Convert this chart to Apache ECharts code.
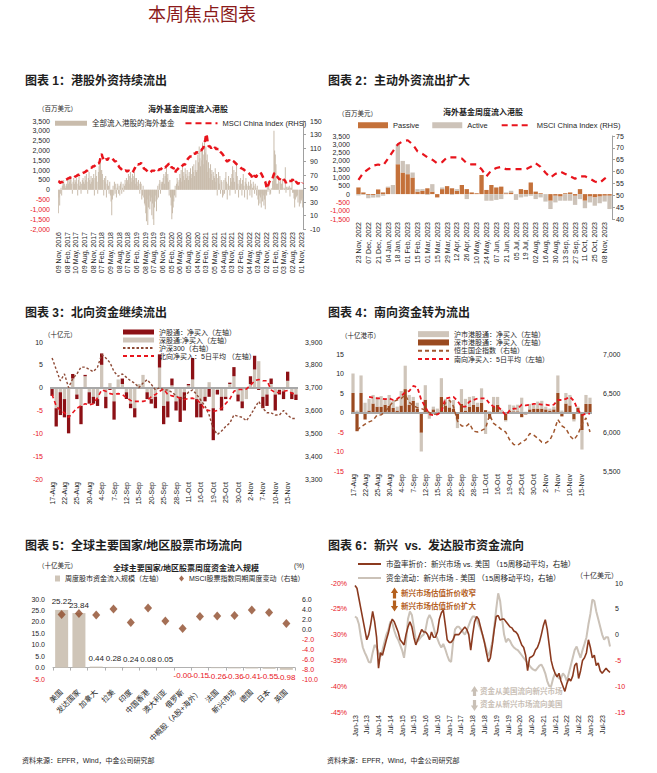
<!DOCTYPE html>
<html><head><meta charset="utf-8">
<script src="https://cdn.jsdelivr.net/npm/echarts@6/dist/echarts.min.js"></script>
<style>html,body{margin:0;padding:0;background:#fff;}#c{width:657px;height:773px;}</style>
</head><body><div id="c"></div>
<script>
// ---------------- DATA ----------------
// Panel 1: weekly foreign fund flows into HK stocks (USD mn), 09 Nov 2016 .. 16 Nov 2022 (last 52 weeks come from panel 2)
const tickLabels1 = ['09 Nov, 2016','08 Feb, 2017','10 May, 2017','09 Aug, 2017','08 Nov, 2017','07 Feb, 2018','09 May, 2018','08 Aug, 2018','07 Nov, 2018','06 Feb, 2019','08 May, 2019','07 Aug, 2019','06 Nov, 2019','05 Feb, 2020','06 May, 2020','05 Aug, 2020','04 Nov, 2020','03 Feb, 2021','05 May, 2021','04 Aug, 2021','03 Nov, 2021','02 Feb, 2022','04 May, 2022','03 Aug, 2022','02 Nov, 2022','01 Feb, 2023','03 May, 2023','02 Aug, 2023','01 Nov, 2023'];
const flows1Early = [
 -1200,-400,-800,-200,100,-300,200,400,500,300,200,100,300,
 200,500,300,600,400,700,500,300,-200,400,600,300,500,
 400,600,300,-300,500,700,200,400,-200,300,500,600,400,
 300,700,500,800,400,-200,600,900,500,300,700,400,600,
 500,800,-300,600,1000,700,400,-200,900,1200,1600,1400,1000,
 1000,800,500,-300,600,400,700,-400,300,500,200,-200,400,
 -300,-600,-1300,-500,200,-300,400,-200,300,-400,100,300,-200,
 200,-300,300,400,-200,100,300,-100,200,500,300,600,400,
 500,800,300,700,900,600,400,800,700,500,900,600,300,
 600,400,200,500,300,-200,400,300,-500,-300,200,-400,-700,
 -800,-1200,-1600,-500,-1800,-900,-300,-1000,-600,-400,-1300,-700,-1500,
 -1800,-900,-600,-300,-1100,-500,200,-400,300,500,-200,400,300,
 400,600,800,300,700,900,1200,600,800,400,-300,500,-400,
 -800,-1500,-1200,-900,-600,-300,200,-400,300,600,400,200,500,
 800,600,1000,400,1200,700,900,500,1100,800,600,1000,700,
 500,900,700,1100,600,800,1200,900,1300,700,1000,1500,900,
 1000,1800,1400,2200,1600,1200,2000,1500,2400,1800,1300,2600,1900,
 2200,1500,1800,900,1400,1100,600,1300,800,1000,500,900,700,
 600,1100,400,800,-300,600,900,300,700,-200,500,400,-400,
 -300,500,-200,600,900,400,-500,300,700,200,-300,600,400,
 800,1200,600,1000,400,-200,900,1400,700,300,-400,500,200,
 600,300,-300,500,800,200,-400,400,600,300,-500,200,400,
 200,-300,500,300,-400,100,400,200,-200,300,100,-300,200,
 -500,-800,-300,-700,-400,-900,-200,-600,-300,-800,-500,-1000,-200,
 -300,200,-100];
const msci1Early = [
 61,60.5,59,58.5,59,60,59.5,60,
 61,62,62.5,63,64,63.5,64.5,65,65.5,66,
 66.5,65.5,66,65,65,
 66,67,67.5,68,68.5,69,70,70.5,70,71,
 71.5,72,71.5,72.5,73,73.5,74,74,
 75,76,76.5,77,78,78.5,79,
 80,81,80.5,82,83,82.5,83.5,84,
 85,86,85,86.5,87,88,90,
 95,100,101,97,95,
 93,94,95,93,94,92,93,95,94,94,
 93,92,93,94,93,92,91,90,91,
 89,87,85,84,82,81,80,79,78,77,78,77,76,76,
 77,76,75,76,77,76,76,75,74,75,74,75,
 77,79,81,83,84,85,86,85,87,86,
 87,88,86,84,82,80,79,79,78,77,76,75,75,
 76,75,74,75,76,77,76,77,76,75,76,76,77,78,77,78,79,
 78,79,80,81,80,81,82,81,82,83,84,85,86,87,86,
 84,81,82,80,81,79,75,73,76,76,
 78,79,80,81,80,81,82,83,84,85,86,85,86,
 88,90,92,94,95,96,97,98,97,99,100,100,
 101,102,101,103,104,104,103,104,105,106,107,106,108,109,110,
 113,117,122,128,131,
 124,116,113,112,113,111,110,111,109,110,
 109,110,111,109,108,109,108,109,107,105,104,103,102,101,101,
 98,96,93,92,91,90,91,91,92,91,90,91,92,91,91,
 90,89,88,87,86,85,84,84,83,82,81,80,80,79,79,
 78,77,76,76,75,74,74,73,72,71,70,69,67,64,66,68,69,68,67,68,
 70,71,72,73,74,73,72,70,68,66,64,62,60,56,51,50,54];

// Panel 2: weekly, 23 Nov 2022 .. 15 Nov 2023 (USD mn)
const tickLabels2 = ['23 Nov, 2022','07 Dec, 2022','21 Dec, 2022','04 Jan, 2023','18 Jan, 2023','01 Feb, 2023','15 Feb, 2023','01 Mar, 2023','15 Mar, 2023','29 Mar, 2023','12 Apr, 2023','26 Apr, 2023','10 May, 2023','24 May, 2023','07 Jun, 2023','21 Jun, 2023','05 Jul, 2023','19 Jul, 2023','02 Aug, 2023','16 Aug, 2023','30 Aug, 2023','13 Sep, 2023','27 Sep, 2023','11 Oct, 2023','25 Oct, 2023','08 Nov, 2023'];
const passive2 = [400,100,-50,-60,280,100,400,0,1800,1300,1200,1000,150,200,350,150,-200,300,480,350,200,550,300,100,50,1150,250,550,400,450,50,100,0,300,250,700,150,50,0,-400,-100,-150,50,100,-100,300,-400,-150,-200,-150,-100,-100];
const active2  = [-80,-50,-200,-150,-200,-100,50,550,1200,700,600,300,150,100,-50,450,0,100,0,-50,100,0,-300,0,0,0,-400,-400,-350,-300,50,100,-350,-200,-150,-100,-300,-200,-450,-500,-400,-250,-400,-400,-550,-300,-450,-350,-500,-400,-350,-800];
const msci2 = [56.5,59.5,61,62.5,63,62.5,65.5,68.5,71.5,72.8,73.2,71.5,68.5,67.5,66,65,63.5,64,66,66,66,65.5,63.5,63,63,61,58,60.5,61.5,62,61,61,61,61,61,62,63.5,62,59.5,57.5,59,60,59,58,57,58,58,57,55.8,55.2,57,58.5];

// Panels 3 & 4: trading days 17-Aug .. 17-Nov
const tickLabels34 = ['17-Aug','22-Aug','25-Aug','30-Aug','4-Sep','7-Sep','12-Sep','15-Sep','20-Sep','25-Sep','28-Sep','11-Oct','16-Oct','19-Oct','25-Oct','30-Oct','2-Nov','7-Nov','10-Nov','15-Nov'];
const sh3 = [-1.5,-4,-5,-4,-4,1,-1,-4,0.3,-2.5,-1.5,-1.5,2.5,-2.5,-0.5,-4,0,1.2,-1.5,-1,-2,0,0,-1.5,-1,-2.5,2.9,-4,-3.5,1.5,-2,-5.5,-4,0.3,4.7,-4,-3,-1,-2,-7,-1,-3,-0.5,0.3,2,-1.5,-1.5,0,1.7,3,-0.5,-2.5,-2.5,1.2,-3.5,-1,-1.7,2,-1.5,-1.2];
const sz3 = [-0.3,-4.5,-1,-2.5,-6,2,-1.5,-4,2.5,-1,-2,-2.5,5,-2,1,-3,1.8,0.8,-1,-3.5,-4.5,0.8,2.8,-1,-2.5,-2,4.4,-4,-3,0.5,-3,-2,-1,0.5,1.8,-2.5,-3.5,-2,1.2,-4.5,-0.5,-2,-2,0.8,2.5,-1.5,-3,-2.5,0.8,4,5.8,-2,-1.5,0.8,-1.5,-0.5,-0.8,1.5,-1,-1.5];
const hs300 = [3830,3780,3730,3760,3700,3740,3760,3790,3790,3780,3770,3790,3845,3830,3810,3770,3750,3760,3745,3730,3720,3700,3720,3735,3715,3690,3700,3690,3690,3680,3665,3650,3660,3680,3690,3670,3645,3620,3580,3520,3495,3510,3530,3545,3580,3575,3570,3555,3580,3610,3640,3610,3590,3590,3580,3580,3600,3580,3565,3565];
const ma3 = [-1.5,-4,-5,-5.5,-6.5,-5.5,-4.5,-4,-3.5,-3.8,-3.5,-2.2,-0.5,-0.8,-1.3,-1.5,-1.3,-1.5,-2.2,-2.8,-3,-3,-3,-2.8,-2,-1.5,-0.8,-0.3,-1.5,-1.8,-2,-2.3,-2.6,-2.4,-2.3,-2.6,-3.5,-4.8,-5,-5.2,-5,-4.5,-3.5,-2.5,-0.8,-0.4,-0.4,-0.3,0.5,1.5,1.8,1.5,1.5,-0.5,-1.1,-1,-0.8,-0.6,-1.2,-1.5];

const sh4 = [5,0.5,4.5,2.5,3,2.2,2.5,2.7,1.5,2.8,1.8,1,3.7,6,2.5,1,1.5,-4.8,3.7,-1.3,0.7,1,4.8,1.7,1.7,2.2,-2.2,3.8,3,2.5,2.2,1,3.7,-5.5,0.3,2.5,2,0.5,-0.3,1.5,1.5,1.7,3.8,0.2,1.4,1,1.8,2,0.7,0.5,0.7,4.5,0.5,2.7,2.7,-0.5,0.3,-5,2.3,1.6];
const sz4 = [5,-4.8,5,-1.8,0.5,2.3,1.5,1.5,2,1.7,1.2,0.5,1.8,6,2,3,1,-5.2,3.3,-0.3,0.8,-0.5,4,1.8,1.3,1,-1.8,2.2,0.5,1.5,2,1.5,2.5,0.6,-1.6,1.5,2,0.2,-2,0.5,0.3,0.3,-1.2,-0.5,0.8,1,1,1,0.8,0.5,0.8,5,-1,2.3,1.8,-1.8,1.2,-4.5,2.2,2.2];
const hscei = [null,6025,6067,6100,6130,6150,6218,6220,6260,6325,6390,6410,6430,6475,6380,6340,6310,6300,6280,6250,6225,6230,6280,6370,6410,6330,6140,6080,6067,6110,6010,6000,6020,6045,6220,6110,6075,6030,6000,5900,5840,5830,5870,5900,5980,5960,5920,5870,5860,5895,6000,6160,6080,6045,5950,5900,5970,6100,6180,6000];
const ma4 = [null,null,null,null,4,3.8,3.6,3.6,3.4,3.6,3.2,3.5,4.2,5.2,5.5,6.8,6.5,3.2,1.5,-0.5,-0.7,-0.5,0.2,3.6,3.8,4,3,1.5,1.5,2.8,3.2,3.6,3.6,3.6,2.3,1.5,1.5,0.6,-0.7,0.5,1,1,2,1.8,2,2.2,2.2,2,2,1.8,2,3.2,3.2,3.5,4,3,0.6,-0.7,-0.3,-0.3];

// Panel 5
const cat5 = ['美国','发达国家','加拿大','拉美','印度','中国香港','澳大利亚','俄罗斯','中概股（A股+海外）','法国','新兴市场','德国','日本','英国'];
const flows5 = [25.22,23.84,0.44,0.28,0.24,0.08,0.05,-0.004,-0.15,-0.26,-0.36,-0.41,-0.55,-0.98];
const msci5 = [2.9,3.1,2.8,4.0,1.3,4.2,1.6,0.1,2.5,2.6,2.7,3.8,3.3,1.1];

// Panel 6: monthly, Jan-13 .. Nov-23
const tickLabels6 = ['Jan-13','Jul-13','Jan-14','Jul-14','Jan-15','Jul-15','Jan-16','Jul-16','Jan-17','Jul-17','Jan-18','Jul-18','Jan-19','Jul-19','Jan-20','Jul-20','Jan-21','Jul-21','Jan-22','Jul-22','Jan-23','Jul-23'];
const peDiscount6 = [-20.5,-21,-23,-25,-27,-29,-31,-30,-28,-25.5,-27.5,-30.5,-36.5,-33.5,-34,-32.5,-31,-29.7,-28,-27,-27.5,-28.5,-29.5,-31,-31.5,-32,-30,-28.5,-27.5,-28.5,-30.5,-32,-31,-30,-29,-29.5,-29.5,-30,-31,-29.5,-30.5,-30.5,-29.5,-27,-25.8,-25.2,-28,-31,-31.5,-31.5,-31,-30,-30,-30,-29.5,-29,-28.5,-29,-30,-33,-30,-27.5,-26.5,-27,-28.5,-30,-31.5,-33.5,-35.3,-34.5,-32,-29,-26.5,-26.3,-27.2,-27,-27,-27.5,-28,-28.5,-28.7,-29.3,-29.5,-30,-31,-32,-32.5,-34,-37,-34.5,-34.3,-34,-33,-32.5,-31.5,-30,-28.3,-27.1,-29,-32,-35,-36.5,-37.5,-38.2,-37.5,-39,-40,-41,-39.5,-38.5,-39,-38,-36,-35.5,-38.5,-37,-35,-34.5,-33.5,-31,-32.5,-34.5,-34,-36,-35.5,-37,-37.5,-37,-36.5,-37,-37.3];
const flowDiff6 = [3.5,3.2,2,-0.5,-2.5,-3.5,-4.3,-5.3,-5.4,-3.5,-2,-2.5,-3.5,-4.3,-3,-1.5,0,0.9,2.5,2.3,0.8,-0.3,-1,-2,-3,-4.5,-1.5,3,4.5,3.8,1.5,-1,-1.3,-0.8,-0.3,0,1,3,3.8,3,1.5,0,-0.8,-1.8,-2.5,-1.8,-2.8,-4,-5,-5.3,-1.5,1,1.5,1.5,1,0.5,0,0.8,1.8,2.8,3.5,3.5,3,2,1,0,-1.5,-2.8,-4.2,-3,-1.5,1.5,5,8,6.5,3,0,-1.5,-0.8,-1.2,-2,-2.5,-2.8,-3,-3.5,-4,-4.5,-5,-5.5,-6,-6.5,-6.8,-7,-6.5,-6,-5.8,-6.5,-7.5,-9,-10,-10,-8.5,-7.5,-8,-8.5,-8.5,-7.5,-8,-9,-7.5,-6,-4.5,-3,-2.3,-3.5,-4.5,-3,-1.8,-0.5,2,4,6.8,6.5,4.5,3,1.5,0,-1,-0.5,-0.5,-2.3];

// ---------------- BUILD ----------------
const flows1 = flows1Early.concat(passive2.map((p, i) => p + active2[i]));
const msci1 = msci1Early.concat(msci2);
const idx = n => Array.from({length: n}, (_, i) => String(i));

const FF = '"Liberation Sans","Noto Sans CJK SC",sans-serif';
const RED = '#E8141C';
const INK = '#1E1E1E';
const negCol = v => (parseFloat(v) < 0 ? RED : INK);
const thou = v => String(Math.round(v)).replace(/\B(?=(\d{3})+(?!\d))/g, ',');

function lab(extra) { return Object.assign({fontSize: 7, fontFamily: FF, color: INK}, extra); }
function catAxis(gi, n, interval, formatter, extra) {
  return Object.assign({type: 'category', gridIndex: gi, data: idx(n), boundaryGap: true,
    axisLine: {show: false}, axisTick: {show: false}, splitLine: {show: false},
    axisLabel: lab({interval: interval, rotate: 90, margin: 3, formatter: formatter})}, extra || {});
}
function valAxis(gi, pos, min, max, interval, label, extra) {
  return Object.assign({type: 'value', gridIndex: gi, position: pos, min: min, max: max, interval: interval,
    splitLine: {show: false}, axisLine: {show: false}, axisTick: {show: false},
    axisLabel: lab(label)}, extra || {});
}
const rightLine = {axisLine: {show: true, lineStyle: {color: '#A0A0A0', width: 1}}, axisTick: {show: true, length: 3, lineStyle: {color: '#A0A0A0'}}};

const p1Right = [-10, 10, 30, 50, 70, 90, 110, 130, 150];

const grids = [
  {left: 58, top: 121, width: 245, height: 108},
  {left: 356, top: 136, width: 256, height: 83},
  {left: 50, top: 342, width: 248, height: 137},
  {left: 351, top: 354, width: 241, height: 117},
  {left: 53, top: 599, width: 242, height: 80},
  {left: 355, top: 583, width: 255, height: 129}
].map(g => Object.assign({containLabel: false, outerBoundsMode: 'none'}, g));

const xAxes = [
  catAxis(0, flows1.length, 12, v => tickLabels1[+v / 13] || ''),
  catAxis(1, passive2.length, 1, v => tickLabels2[+v / 2] || ''),
  catAxis(2, sh3.length, 2, v => tickLabels34[+v / 3] || ''),
  catAxis(3, sh4.length, 2, v => tickLabels34[+v / 3] || ''),
  {type: 'category', gridIndex: 4, data: cat5, boundaryGap: true,
   axisLine: {show: true, onZero: true, lineStyle: {color: '#B0B0B0', width: 1}},
   axisTick: {show: true, length: 3, lineStyle: {color: '#B0B0B0'}},
   axisLabel: lab({interval: 0, rotate: 45, margin: 12, fontSize: 7.5})},
  catAxis(5, peDiscount6.length, 5, v => tickLabels6[+v / 6] || '', {boundaryGap: false})
];

const yAxes = [
  valAxis(0, 'left', -2000, 3500, 500, {formatter: thou, color: negCol, margin: 8}),
  Object.assign(valAxis(0, 'right', -10, 150, null, {margin: 7, customValues: p1Right}), rightLine,
    {axisTick: {show: true, length: 3, customValues: p1Right, lineStyle: {color: '#A0A0A0'}}}),
  valAxis(1, 'left', -1500, 3500, 500, {formatter: thou, color: negCol, margin: 6}),
  Object.assign(valAxis(1, 'right', 40, 75, 5, {margin: 4}), rightLine),
  valAxis(2, 'left', -20, 10, 5, {color: negCol, margin: 7}),
  valAxis(2, 'right', 3300, 3900, 100, {formatter: thou, margin: 7}),
  valAxis(3, 'left', -15, 15, 5, {color: negCol, margin: 7}),
  valAxis(3, 'right', 5500, 7000, 500, {formatter: thou, margin: 11}),
  valAxis(4, 'left', -5, 30, 5, {formatter: v => v.toFixed(1), color: negCol, margin: 8}),
  valAxis(4, 'right', -10, 6, 2, {formatter: v => v.toFixed(1), color: negCol, margin: 7}),
  valAxis(5, 'left', -45, -20, 5, {formatter: v => v + '%', color: RED, margin: 8}),
  valAxis(5, 'right', -15, 10, 5, {color: negCol, margin: 5})
];

const zeroLine = {silent: true, symbol: 'none', label: {show: false}, lineStyle: {color: '#A8A8A8', width: 2, type: 'solid'}, data: [{yAxis: 0}]};

const n1 = 'MSCI China Index (RHS)';
const series = [
  // Panel 1
  {type: 'bar', name: '全部流入港股的海外基金', xAxisIndex: 0, yAxisIndex: 0, data: flows1, barCategoryGap: '10%', itemStyle: {color: '#C9BCAC'}},
  {type: 'line', name: n1, xAxisIndex: 0, yAxisIndex: 1, data: msci1, symbol: 'none', z: 5,
   lineStyle: {color: RED, width: 2.5, type: [6, 4]}, itemStyle: {color: RED}},
  // Panel 2
  {type: 'bar', name: 'Passive', xAxisIndex: 1, yAxisIndex: 2, stack: 'p2', data: passive2, barCategoryGap: '12%', itemStyle: {color: '#C4713A'}},
  {type: 'bar', name: 'Active', xAxisIndex: 1, yAxisIndex: 2, stack: 'p2', data: active2, itemStyle: {color: '#CDC3B9'}},
  {type: 'line', name: n1, xAxisIndex: 1, yAxisIndex: 3, data: msci2, symbol: 'none', z: 5,
   lineStyle: {color: RED, width: 2.2, type: [6, 5]}, itemStyle: {color: RED}},
  // Panel 3
  {type: 'bar', name: '深股通:净买入（左轴）', xAxisIndex: 2, yAxisIndex: 4, stack: 'p3', data: sz3, barCategoryGap: '20%', itemStyle: {color: '#CFC5BA'}, markLine: zeroLine},
  {type: 'bar', name: '沪股通：净买入（左轴）', xAxisIndex: 2, yAxisIndex: 4, stack: 'p3', data: sh3, itemStyle: {color: '#8C1015'}},
  {type: 'line', name: '沪深300（右轴）', xAxisIndex: 2, yAxisIndex: 5, data: hs300, symbol: 'none', z: 5,
   lineStyle: {color: '#8E4A36', width: 1.4, type: [2.5, 2]}, itemStyle: {color: '#8E4A36'}},
  {type: 'line', name: '北向净买入：5日平均 （左轴）', xAxisIndex: 2, yAxisIndex: 4, data: ma3, symbol: 'none', z: 6,
   lineStyle: {color: RED, width: 1.6, type: [4, 3]}, itemStyle: {color: RED}},
  // Panel 4
  {type: 'bar', name: '深市港股通：净买入（左轴）', xAxisIndex: 3, yAxisIndex: 6, stack: 'p4', data: sz4, barCategoryGap: '20%', itemStyle: {color: '#9A4A20'}, markLine: zeroLine},
  {type: 'bar', name: '沪市港股通：净买入（左轴）', xAxisIndex: 3, yAxisIndex: 6, stack: 'p4', data: sh4, itemStyle: {color: '#CFC5BA'}},
  {type: 'line', name: '恒生国企指数（右轴）', xAxisIndex: 3, yAxisIndex: 7, data: hscei, symbol: 'none', z: 5,
   lineStyle: {color: '#A0562E', width: 1.5, type: [4, 3]}, itemStyle: {color: '#A0562E'}},
  {type: 'line', name: '南向净买入：5日平均（左轴）', xAxisIndex: 3, yAxisIndex: 6, data: ma4, symbol: 'none', z: 6,
   lineStyle: {color: RED, width: 1.8, type: [4, 3]}, itemStyle: {color: RED}},
  // Panel 5
  {type: 'bar', name: '周度股市资金流入规模（左轴）', xAxisIndex: 4, yAxisIndex: 8, barWidth: 13,
   itemStyle: {color: '#CFC5B8'},
   data: flows5.map(v => ({value: v, label: {show: true, position: v < 0 ? 'bottom' : 'top', distance: 4,
     color: v < 0 ? RED : INK, fontSize: 8, fontFamily: FF, formatter: p => p.value.toFixed(2)}}))},
  {type: 'scatter', name: 'MSCI股票指数同期周度变动（右轴）', xAxisIndex: 4, yAxisIndex: 9, data: msci5,
   symbol: 'diamond', symbolSize: [8, 9], itemStyle: {color: '#8E4B2B'}, z: 5},
  // Panel 6
  {type: 'line', name: '资金流动：新兴市场 - 美国 （15周移动平均，右轴）', xAxisIndex: 5, yAxisIndex: 11, data: flowDiff6, symbol: 'none',
   lineStyle: {color: '#CBC2B8', width: 2}, itemStyle: {color: '#CBC2B8'}},
  {type: 'line', name: '市盈率折价：新兴市场 vs. 美国 （15周移动平均，右轴）', xAxisIndex: 5, yAxisIndex: 10, data: peDiscount6, symbol: 'none', z: 4,
   lineStyle: {color: '#8B3A1F', width: 1.6}, itemStyle: {color: '#8B3A1F'}}
];

const lt = (extra) => Object.assign({fontSize: 7, fontFamily: FF, color: INK}, extra || {});
const lineItem = name => ({name: name, itemStyle: {opacity: 0}});
const legends = [
  {left: 55, top: 119.5, itemWidth: 32, itemHeight: 5, itemGap: 10, padding: 0, selectedMode: false,
   data: [{name: '全部流入港股的海外基金', icon: 'rect'}, lineItem(n1)], textStyle: lt({fontSize: 7.5})},
  {left: 358, top: 121.5, itemWidth: 30, itemHeight: 6, itemGap: 13, padding: 0, selectedMode: false,
   data: [{name: 'Passive', icon: 'rect'}, {name: 'Active', icon: 'rect'}, lineItem(n1)], textStyle: lt({fontSize: 7.5})},
  {left: 122, top: 328, orient: 'vertical', itemWidth: 31, itemHeight: 5, itemGap: 0, padding: 0, selectedMode: false,
   data: [{name: '沪股通：净买入（左轴）', icon: 'rect'}, {name: '深股通:净买入（左轴）', icon: 'rect'}, lineItem('沪深300（右轴）'), lineItem('北向净买入：5日平均 （左轴）')],
   textStyle: lt({lineHeight: 8})},
  {left: 417, top: 330, orient: 'vertical', itemWidth: 31, itemHeight: 6, itemGap: 0, padding: 0, selectedMode: false,
   data: [{name: '沪市港股通：净买入（左轴）', icon: 'rect'}, {name: '深市港股通：净买入（左轴）', icon: 'rect'}, lineItem('恒生国企指数（右轴）'), lineItem('南向净买入：5日平均（左轴）')],
   textStyle: lt({lineHeight: 8.3})},
  {left: 55, top: 575, itemWidth: 5, itemHeight: 6, itemGap: 16, padding: 0, selectedMode: false,
   data: [{name: '周度股市资金流入规模（左轴）', icon: 'rect'}, {name: 'MSCI股票指数同期周度变动（右轴）', icon: 'diamond'}],
   textStyle: lt({fontSize: 7})},
  {left: 357, top: 557, orient: 'vertical', itemWidth: 23, itemHeight: 4, itemGap: 0, padding: 0, selectedMode: false,
   data: [lineItem('市盈率折价：新兴市场 vs. 美国 （15周移动平均，右轴）'), lineItem('资金流动：新兴市场 - 美国 （15周移动平均，右轴）')],
   textStyle: lt({fontSize: 7.5, lineHeight: 14})}
];

function txt(text, x, y, size, opts) {
  opts = opts || {};
  const align = opts.align || 'left';
  return {type: 'text', silent: true, z: 100,
    style: {text: text, x: x, y: y, fill: opts.color || INK,
      font: (opts.weight || 'normal') + ' ' + size + 'px ' + (opts.family || FF),
      align: align, textAlign: align, verticalAlign: 'middle', textVerticalAlign: 'middle'}};
}
function arrow(cx, top, bottom, up, color) {
  const sw = 1.6, hw = 3.6, hh = 5.5;
  let pts;
  if (up) pts = [[cx - sw, bottom], [cx + sw, bottom], [cx + sw, top + hh], [cx + hw, top + hh], [cx, top], [cx - hw, top + hh], [cx - sw, top + hh]];
  else pts = [[cx - sw, top], [cx + sw, top], [cx + sw, bottom - hh], [cx + hw, bottom - hh], [cx, bottom], [cx - hw, bottom - hh], [cx - sw, bottom - hh]];
  return {type: 'polygon', silent: true, z: 100, shape: {points: pts}, style: {fill: color}};
}
const ORG = '#B4601E', GRY = '#C9C0B6';
const graphics = [
  txt('本周焦点图表', 202, 12.5, 18, {align: 'center', color: '#8B1A1A', family: '"Noto Sans CJK SC",sans-serif'}),
  txt('图表 1：港股外资持续流出', 25, 81, 12, {weight: 'bold'}),
  txt('图表 2：主动外资流出扩大', 328, 81, 12, {weight: 'bold'}),
  txt('图表 3：北向资金继续流出', 25, 313, 12, {weight: 'bold'}),
  txt('图表 4：南向资金转为流出', 328, 313, 12, {weight: 'bold'}),
  txt('图表 5：全球主要国家/地区股票市场流向', 25, 546, 12, {weight: 'bold'}),
  txt('图表 6：新兴  vs.  发达股市资金流向', 328, 546, 12, {weight: 'bold'}),
  txt('海外基金周度流入港股', 188, 109, 8, {weight: 'bold', align: 'center'}),
  txt('（百万美元）', 38, 108, 6.5),
  txt('海外基金周度流入港股', 483, 112, 8, {weight: 'bold', align: 'center'}),
  txt('（百万美元）', 338, 113, 6.5),
  txt('（十亿元）', 44, 334, 6.5),
  txt('（十亿港币）', 341, 335, 6.5),
  txt('（十亿美元）', 38, 565, 6.5),
  txt('(%)', 294, 565, 6.5),
  txt('全球主要国家/地区股票周度资金流入规模', 186, 568, 8, {weight: 'bold', align: 'center'}),
  txt('（十亿美元）', 576, 575, 7),
  arrow(394.5, 587.5, 598.5, true, ORG),
  arrow(394.5, 600.5, 611.5, false, ORG),
  txt('新兴市场估值折价收窄', 401, 593, 7.5, {weight: 'bold', color: ORG}),
  txt('新兴市场估值折价扩大', 401, 606, 7.5, {weight: 'bold', color: ORG}),
  arrow(474.5, 686, 696, true, GRY),
  arrow(474.5, 700, 711, false, GRY),
  txt('资金从美国流向新兴市场', 480, 691, 7.5, {weight: 'bold', color: GRY}),
  txt('资金从新兴市场流向美国', 480, 704, 7.5, {weight: 'bold', color: GRY}),
  txt('资料来源：EPFR，Wind，中金公司研究部', 22, 760, 7),
  txt('资料来源：EPFR，Wind，中金公司研究部', 327, 760, 7)
];

const chart = echarts.init(document.getElementById('c'), null, {renderer: 'svg', width: 657, height: 773});
chart.setOption({
  animation: false,
  backgroundColor: '#fff',
  textStyle: {fontFamily: FF},
  grid: grids,
  xAxis: xAxes,
  yAxis: yAxes,
  legend: legends,
  series: series,
  graphic: {elements: graphics}
});
</script></body></html>
